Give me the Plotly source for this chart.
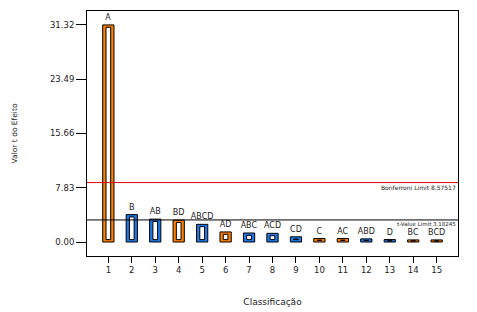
import plotly.graph_objects as go

rank = list(range(1, 16))
terms = ["A", "B", "AB", "BD", "ABCD", "AD", "ABC", "ACD", "CD", "C", "AC", "ABD", "D", "BC", "BCD"]
t_values = [31.32, 3.95, 3.3, 3.15, 2.55, 1.45, 1.3, 1.25, 0.75, 0.5, 0.5, 0.45, 0.35, 0.3, 0.3]
signs = ["+", "-", "-", "+", "-", "+", "-", "-", "-", "+", "+", "-", "-", "+", "+"]
bonferroni = 8.57517
t_limit = 3.18245
y_ticks = [0.00, 7.83, 15.66, 23.49, 31.32]

ORANGE = "#ff7f00"
BLUE = "#1e78e6"
FONT = "DejaVu Sans, Liberation Sans, Arial"
TXT = "#222"
colors = [ORANGE if s == "+" else BLUE for s in signs]

inset = 0.34
inner_base = [min(inset, v / 2) for v in t_values]
inner_h = [max(v - 2 * inset, 0) for v in t_values]

fig = go.Figure()
fig.add_trace(go.Bar(
    x=rank, y=t_values, width=0.48,
    marker=dict(color=colors, line=dict(color="black", width=1)),
    text=terms, textposition="outside", cliponaxis=False, constraintext="none",
    textfont=dict(family=FONT, size=8, color=TXT),
    hoverinfo="skip"))
fig.add_trace(go.Bar(
    x=rank, y=inner_h, base=inner_base, width=0.2,
    marker=dict(color="white", line=dict(color="black", width=1)),
    hoverinfo="skip"))

fig.add_hline(y=bonferroni, line=dict(color="#e00000", width=1))
fig.add_hline(y=t_limit, line=dict(color="black", width=1))
fig.add_annotation(x=1, xref="paper", y=bonferroni, yref="y", xanchor="right", yanchor="top",
                   text=f"Bonferroni Limit {bonferroni}", showarrow=False, yshift=0, xshift=-1,
                   borderpad=0, font=dict(family=FONT, size=6, color=TXT))
fig.add_annotation(x=1, xref="paper", y=t_limit, yref="y", xanchor="right", yanchor="top",
                   text=f"t-Value Limit {t_limit}", showarrow=False, yshift=0, xshift=-1,
                   borderpad=0, font=dict(family=FONT, size=5.5, color=TXT))

axis_font = dict(family=FONT, size=8.5, color=TXT)
fig.update_layout(
    width=477, height=312,
    margin=dict(l=87, r=19, t=11, b=56, autoexpand=False),
    barmode="overlay", showlegend=False,
    plot_bgcolor="white", paper_bgcolor="white",
    xaxis=dict(range=[0.09, 15.91], tickvals=rank, ticktext=[str(r) for r in rank],
               showgrid=False, zeroline=False, showline=True, linecolor="black", linewidth=1,
               mirror=True, ticks="outside", ticklen=6, tickcolor="black", tickfont=axis_font,
               automargin=False,
               title=dict(text="Classificação", font=dict(family=FONT, size=9, color=TXT), standoff=24)),
    yaxis=dict(range=[-2.02, 33.33], tickvals=y_ticks, ticktext=[f"{v:.2f}" for v in y_ticks],
               showgrid=False, zeroline=False, showline=True, linecolor="black", linewidth=1,
               mirror=True, ticks="outside", ticklen=10, tickcolor="black", tickfont=axis_font,
               automargin=False,
               title=dict(text="Valor t do Efeito", font=dict(family=FONT, size=7.5, color=TXT), standoff=31)),
)

fig.write_html("out.html", config={"displayModeBar": False},
               post_script="document.body.style.margin='0';")
